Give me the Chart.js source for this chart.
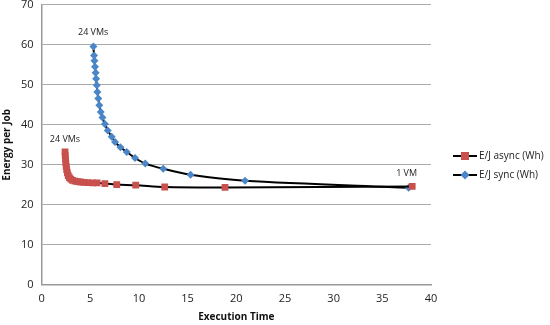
<!DOCTYPE html>
<html>
<head>
<meta charset="utf-8">
<script src="https://cdn.jsdelivr.net/npm/chart.js@4/dist/chart.umd.min.js"></script>
<style>
  html, body { margin: 0; padding: 0; background: #fff; }
  #wrap { width: 550px; height: 325px; }
</style>
</head>
<body>
<div id="wrap"><canvas id="energyChart" width="550" height="325"></canvas></div>
<script>
// series, 1 VM ... 24 VMs
const asyncTime = [38.07, 18.84, 12.65, 9.67, 7.72, 6.50, 5.70, 5.25, 4.75, 4.35, 4.00, 3.70, 3.42, 3.18, 3.00, 2.85, 2.74, 2.65, 2.58, 2.53, 2.49, 2.46, 2.43, 2.41];
const asyncEnergy = [24.6, 24.35, 24.45, 24.9, 25.05, 25.3, 25.5, 25.5, 25.55, 25.6, 25.7, 25.8, 25.9, 26.1, 26.4, 26.8, 27.3, 28.0, 28.8, 29.6, 30.5, 31.4, 32.3, 33.2];
const syncTime = [37.7, 20.9, 15.3, 12.5, 10.65, 9.6, 8.75, 8.1, 7.55, 7.2, 6.8, 6.5, 6.25, 6.08, 5.93, 5.83, 5.73, 5.67, 5.6, 5.55, 5.49, 5.43, 5.39, 5.32];
const syncEnergy = [24.25, 26.0, 27.5, 29.0, 30.3, 31.7, 33.2, 34.4, 35.7, 37.0, 38.6, 40.2, 41.8, 43.2, 44.9, 46.6, 48.2, 49.9, 51.5, 53.0, 54.5, 56.0, 57.3, 59.6];

const seriesNames = ["E/J async (Wh)", "E/J sync (Wh)"];
const xTicks = [0, 5, 10, 15, 20, 25, 30, 35, 40];
const yTicks = [0, 10, 20, 30, 40, 50, 60, 70];

// text labels: [x, y, text, dx, dy]
const notes = [
  [5.3, 59.6, "24 VMs", 0, -14],
  [2.4, 33.2, "24 VMs", 0, -13],
  [37.7, 24.6, "1 VM", -2, -13]
];

const red = "#c8504d";
const blue = "#4a86c8";
const font = "'Open Sans', 'Liberation Sans', sans-serif";

function pairs(xs, ys) {
  return xs.map((x, i) => ({ x: x, y: ys[i] }));
}

const notesPlugin = {
  id: "notes",
  afterDatasetsDraw(chart) {
    const c = chart.ctx, sx = chart.scales.x, sy = chart.scales.y;
    c.save();
    c.font = "9px " + font;
    c.fillStyle = "#222";
    c.textAlign = "center";
    c.textBaseline = "middle";
    notes.forEach(n => {
      c.fillText(n[2], sx.getPixelForValue(n[0]) + n[3], sy.getPixelForValue(n[1]) + n[4]);
    });
    c.restore();
  }
};

const legendPlugin = {
  id: "sideLegend",
  afterDraw(chart) {
    const c = chart.ctx;
    const x0 = 453, ys = [156, 175];
    c.save();
    c.font = "10px " + font;
    c.textBaseline = "middle";
    chart.data.datasets.forEach((ds, i) => {
      const y = ys[i];
      c.strokeStyle = "#000";
      c.lineWidth = 2;
      c.beginPath();
      c.moveTo(x0, y);
      c.lineTo(x0 + 24, y);
      c.stroke();
      c.fillStyle = ds.pointBackgroundColor;
      c.beginPath();
      if (ds.pointStyle === "rect") {
        c.rect(x0 + 8, y - 4, 8, 8);
      } else {
        c.moveTo(x0 + 12, y - 4.5);
        c.lineTo(x0 + 16.5, y);
        c.lineTo(x0 + 12, y + 4.5);
        c.lineTo(x0 + 7.5, y);
        c.closePath();
      }
      c.fill();
      c.fillStyle = "#222";
      c.fillText(ds.label, x0 + 26, y);
    });
    c.restore();
  }
};

const ctx = document.getElementById("energyChart").getContext("2d");
let energyChart = new Chart(ctx, {
  type: "scatter",
  data: {
    datasets: [{
      label: seriesNames[0],
      data: pairs(asyncTime, asyncEnergy),
      showLine: true,
      borderColor: "#000",
      borderWidth: 2,
      tension: 0.3,
      pointStyle: "rect",
      pointRadius: 4.8,
      pointBackgroundColor: red,
      pointBorderWidth: 0,
      pointBorderColor: red
    }, {
      label: seriesNames[1],
      data: pairs(syncTime, syncEnergy),
      showLine: true,
      borderColor: "#000",
      borderWidth: 2,
      tension: 0.3,
      pointStyle: "rectRot",
      pointRadius: 4,
      pointBackgroundColor: blue,
      pointBorderWidth: 0,
      pointBorderColor: blue
    }]
  },
  options: {
    responsive: false,
    animation: { duration: 0 },
    layout: { padding: { top: 4, right: 119, bottom: 2, left: 1 } },
    plugins: {
      legend: { display: false },
      tooltip: { enabled: false }
    },
    scales: {
      x: {
        type: "linear",
        min: 0,
        max: 40,
        afterBuildTicks: axis => { axis.ticks = xTicks.map(v => ({ value: v })); },
        grid: { display: false, drawTicks: false },
        border: { color: "#999", width: 1.5 },
        ticks: { color: "#222", font: { family: font, size: 11 }, padding: 7.5 },
        title: { display: true, text: "Execution Time", color: "#111", font: { family: font, size: 10, weight: "bold" }, padding: { top: -2, bottom: 0 } }
      },
      y: {
        min: 0,
        max: 70,
        afterBuildTicks: axis => { axis.ticks = yTicks.map(v => ({ value: v })); },
        afterFit: axis => { axis.paddingTop = 0; },
        grid: { color: "#aaa", lineWidth: 1, drawTicks: false },
        border: { color: "#999", width: 1.5 },
        ticks: { color: "#222", font: { family: font, size: 11 }, padding: 8 },
        title: { display: true, text: "Energy per Job", color: "#111", font: { family: font, size: 10, weight: "bold" }, padding: { top: 0, bottom: 0 } }
      }
    }
  },
  plugins: [notesPlugin, legendPlugin]
});
</script>
</body>
</html>
